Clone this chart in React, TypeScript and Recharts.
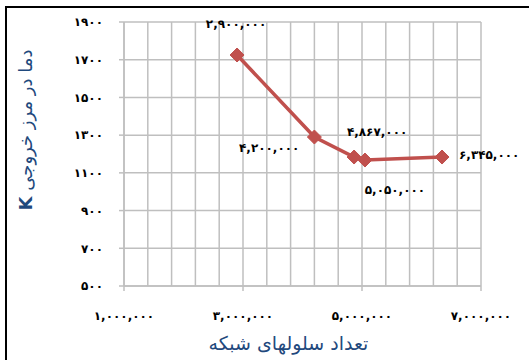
import { LineChart, Line, XAxis, YAxis, CartesianGrid, LabelList, Label } from 'recharts'

// number of mesh cells vs. outlet boundary temperature (K)
const cellCounts = [2900000, 4200000, 4867000, 5050000, 6345000]
const outletTemps = [1725, 1290, 1184, 1168, 1184]

const xTicks = [1000000, 3000000, 5000000, 7000000]
const xGridValues = [
	1000000, 1400000, 1800000, 2200000, 2600000, 3000000, 3400000, 3800000,
	4200000, 4600000, 5000000, 5400000, 5800000, 6200000, 6600000, 7000000,
]
const yTicks = [500, 700, 900, 1100, 1300, 1500, 1700, 1900]

const data = cellCounts.map((cells, i) => ({ cells, temp: outletTemps[i] }))

const faDigits = '۰۱۲۳۴۵۶۷۸۹'
const toFa = (n: number, sep = true) =>
	(sep ? n.toLocaleString('en-US') : String(n)).replace(/\d/g, d => faDigits[+d])

const LINE = '#C0504D'
const GRID = '#BFBFBF'
const TITLE = '#1F497D'
const FONT = "'DejaVu Sans', sans-serif"

// where each point label sits relative to its marker
const labelPlacement: { dx: number; dy: number; anchor: 'start' | 'middle' | 'end' }[] = [
	{ dx: -1, dy: -31, anchor: 'middle' },
	{ dx: -15, dy: 11, anchor: 'end' },
	{ dx: 23, dy: -25, anchor: 'middle' },
	{ dx: 30, dy: 30, anchor: 'middle' },
	{ dx: 17, dy: -2, anchor: 'start' },
]

const Diamond = (props: any) => {
	const { cx, cy } = props
	if (cx == null || cy == null) return null
	const r = 7
	return (
		<polygon
			points={`${cx},${cy - r} ${cx + r},${cy} ${cx},${cy + r} ${cx - r},${cy}`}
			fill={LINE}
			stroke={LINE}
		/>
	)
}

const PointLabel = (props: any) => {
	const { x, y, index, value } = props
	const p = labelPlacement[index]
	return (
		<text
			x={x + p.dx}
			y={y + p.dy}
			textAnchor={p.anchor}
			dominantBaseline='central'
			fontFamily={FONT}
			fontSize={12}
			fontWeight='bold'
			letterSpacing={1.6}
			fill='#000'
		>
			{toFa(value)}
		</text>
	)
}

const YTitle = (props: any) => {
	const { viewBox } = props
	const cx = 25
	const cy = viewBox.y + viewBox.height / 2 - 24
	return (
		<text
			x={cx}
			y={cy}
			transform={`rotate(-90 ${cx} ${cy})`}
			textAnchor='middle'
			dominantBaseline='central'
			direction='rtl'
			fontFamily={FONT}
			fontSize={18}
			fill={TITLE}
		>
			<tspan>دما در مرز خروجی </tspan>
			<tspan fontWeight='bold'>K</tspan>
		</text>
	)
}

const XTitle = (props: any) => {
	const { viewBox } = props
	return (
		<text
			x={viewBox.x + viewBox.width / 2 - 14}
			y={343}
			textAnchor='middle'
			dominantBaseline='central'
			direction='rtl'
			fontFamily={FONT}
			fontSize={19}
			fill={TITLE}
		>
			تعداد سلولهای شبکه
		</text>
	)
}

const tickStyle = {
	fontFamily: FONT,
	fontSize: 12,
	fontWeight: 'bold' as const,
	fill: '#000',
	letterSpacing: 1.6,
}

export default function App() {
	return (
		<div
			style={{
				position: 'absolute',
				left: 0,
				top: 0,
				width: 529,
				height: 360,
				overflow: 'hidden',
				background: '#fff',
			}}
		>
			<div
				style={{
					position: 'absolute',
					left: 5,
					top: 6,
					width: 600,
					height: 400,
					border: '2px solid #000',
				}}
			/>
			<LineChart
				width={529}
				height={360}
				data={data}
				margin={{ top: 22, right: 48, bottom: 44, left: 64 }}
				style={{ position: 'absolute', left: 0, top: 0 }}
			>
				{/* hidden axis carrying the minor vertical gridlines */}
				<XAxis
					xAxisId='grid'
					type='number'
					dataKey='cells'
					domain={[1000000, 7000000]}
					ticks={xGridValues}
					interval={0}
					hide
				/>
				<CartesianGrid xAxisId='grid' stroke={GRID} strokeWidth={1.5} />
				<XAxis
					type='number'
					dataKey='cells'
					domain={[1000000, 7000000]}
					ticks={xTicks}
					interval={0}
					tickFormatter={v => toFa(v)}
					stroke={GRID}
					strokeWidth={1.5}
					tickSize={5}
					tickMargin={20}
					height={30}
					tick={tickStyle}
				>
					<Label content={<XTitle />} />
				</XAxis>
				<YAxis
					type='number'
					dataKey='temp'
					domain={[500, 1900]}
					ticks={yTicks}
					interval={0}
					tickFormatter={v => toFa(v, false)}
					stroke={GRID}
					strokeWidth={1.5}
					tickSize={5}
					tickMargin={16}
					width={60}
					tick={tickStyle}
				>
					<Label content={<YTitle />} />
				</YAxis>
				<Line
					type='linear'
					dataKey='temp'
					stroke={LINE}
					strokeWidth={3.5}
					dot={<Diamond />}
					activeDot={false}
					isAnimationActive={false}
				>
					<LabelList dataKey='cells' content={<PointLabel />} />
				</Line>
			</LineChart>
		</div>
	)
}
